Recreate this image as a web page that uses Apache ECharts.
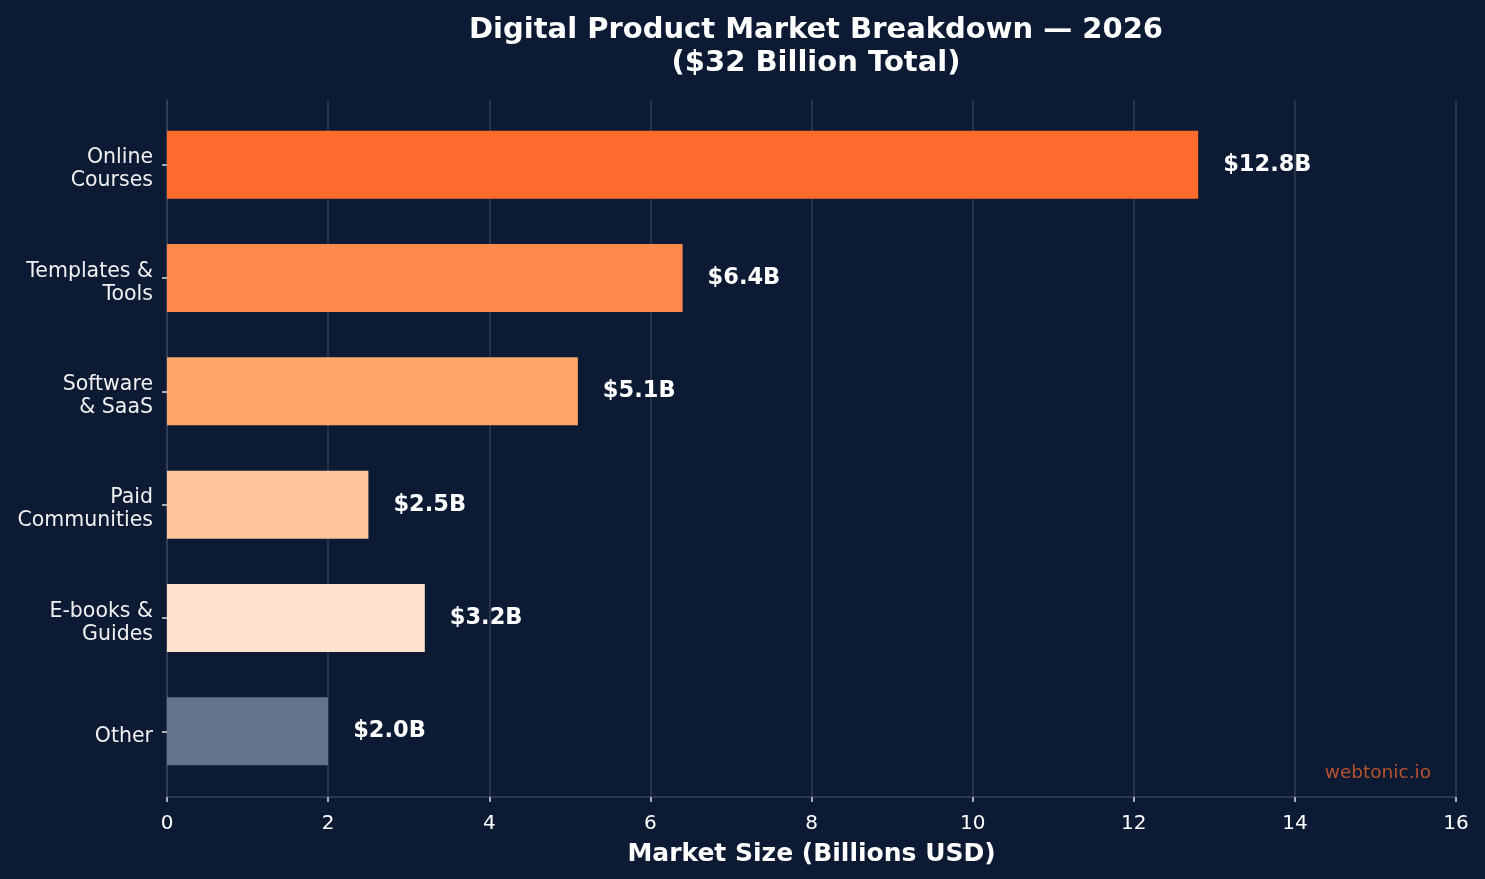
<!DOCTYPE html>
<html>
<head>
<meta charset="utf-8">
<title>Digital Product Market Breakdown</title>
<script src="https://cdn.jsdelivr.net/npm/echarts@6/dist/echarts.min.js"></script>
<style>
  html, body { margin: 0; padding: 0; background: #0c1a33; }
  #chart { width: 1485px; height: 879px; }
</style>
</head>
<body>
<div id="chart"></div>
<script>
// data (top to bottom)
var categories = ['Online\nCourses', 'Templates &\nTools', 'Software\n& SaaS', 'Paid\nCommunities', 'E-books &\nGuides', 'Other']
var values = [12.8, 6.4, 5.1, 2.5, 3.2, 2.0]
var barColors = ['#ff6b2c', '#ff8a4c', '#ffa66b', '#ffc49a', '#ffe1cc', '#64748b']
var xTicks = [0, 2, 4, 6, 8, 10, 12, 14, 16]

var font = 'DejaVu Sans'
var myChart = echarts.init(document.getElementById('chart'))

var labelRich = {
  s: { fontSize: 1, lineHeight: 10, color: 'rgba(0,0,0,0)' },
  n: { color: '#f0f0f0', fontSize: 20.5, fontFamily: font, lineHeight: 23, align: 'right' },
}

var option = {
  backgroundColor: '#0c1a33',
  animation: false,
  title: {
    text: 'Digital Product Market Breakdown — 2026\n($32 Billion Total)',
    left: 811,
    top: 9,
    textAlign: 'center',
    textStyle: {
      color: '#ffffff',
      fontFamily: font,
      fontWeight: 'bold',
      fontSize: 29,
      lineHeight: 33,
    },
  },
  grid: [
    // frame grid (axes, gridlines)
    { left: 167, right: 29, top: 100, bottom: 82 },
    // bar grid, slightly inset so bands match the reference
    { left: 167, right: 29, top: 108, bottom: 91 },
  ],
  xAxis: [
    {
      gridIndex: 0,
      type: 'value',
      min: xTicks[0],
      max: xTicks[xTicks.length - 1],
      interval: 2,
      axisLine: { show: true, lineStyle: { color: '#35445c', width: 1.5 } },
      axisTick: { show: true, length: 5, lineStyle: { color: '#dddddd', width: 1.5 } },
      axisLabel: { color: '#ffffff', fontSize: 20, fontFamily: font, margin: 17 },
      splitLine: { show: true, lineStyle: { color: 'rgba(255,255,255,0.15)', width: 1.5 } },
      name: 'Market Size (Billions USD)',
      nameLocation: 'middle',
      nameGap: 45,
      nameTextStyle: { color: '#ffffff', fontFamily: font, fontWeight: 'bold', fontSize: 25 },
    },
    {
      gridIndex: 1,
      type: 'value',
      min: xTicks[0],
      max: xTicks[xTicks.length - 1],
      show: false,
    },
  ],
  yAxis: [
    {
      gridIndex: 0,
      type: 'value',
      min: 0,
      max: 1,
      axisLine: { show: true, lineStyle: { color: '#35445c', width: 1.5 } },
      axisTick: { show: false },
      axisLabel: { show: false },
      splitLine: { show: false },
    },
    {
      gridIndex: 1,
      type: 'category',
      data: categories,
      inverse: true,
      axisLine: { show: false },
      axisTick: {
        show: true,
        alignWithLabel: true,
        length: 5,
        lineStyle: { color: '#dddddd', width: 1.5 },
      },
      axisLabel: {
        margin: 14,
        align: 'right',
        // a thin blank first line pushes the label a few px below the tick, like the original
        formatter: function (v) {
          return '{s| }\n' + v.split('\n').map(function (l) {
            return '{n|' + l + '}'
          }).join('\n')
        },
        rich: labelRich,
      },
      splitLine: { show: false },
    },
  ],
  graphic: [
    {
      type: 'text',
      right: 54,
      top: 764,
      style: {
        text: 'webtonic.io',
        fill: '#b5532e',
        font: '18.5px "DejaVu Sans"',
      },
    },
  ],
  series: [
    {
      type: 'bar',
      xAxisIndex: 1,
      yAxisIndex: 1,
      barWidth: '60%',
      data: values.map(function (v, i) {
        return { value: v, itemStyle: { color: barColors[i] } }
      }),
      label: {
        show: true,
        position: 'right',
        distance: 25,
        color: '#ffffff',
        fontFamily: font,
        fontWeight: 'bold',
        fontSize: 22.5,
        formatter: function (p) {
          return '$' + p.value.toFixed(1) + 'B'
        },
      },
    },
  ],
}
myChart.setOption(option, true)
</script>
</body>
</html>
